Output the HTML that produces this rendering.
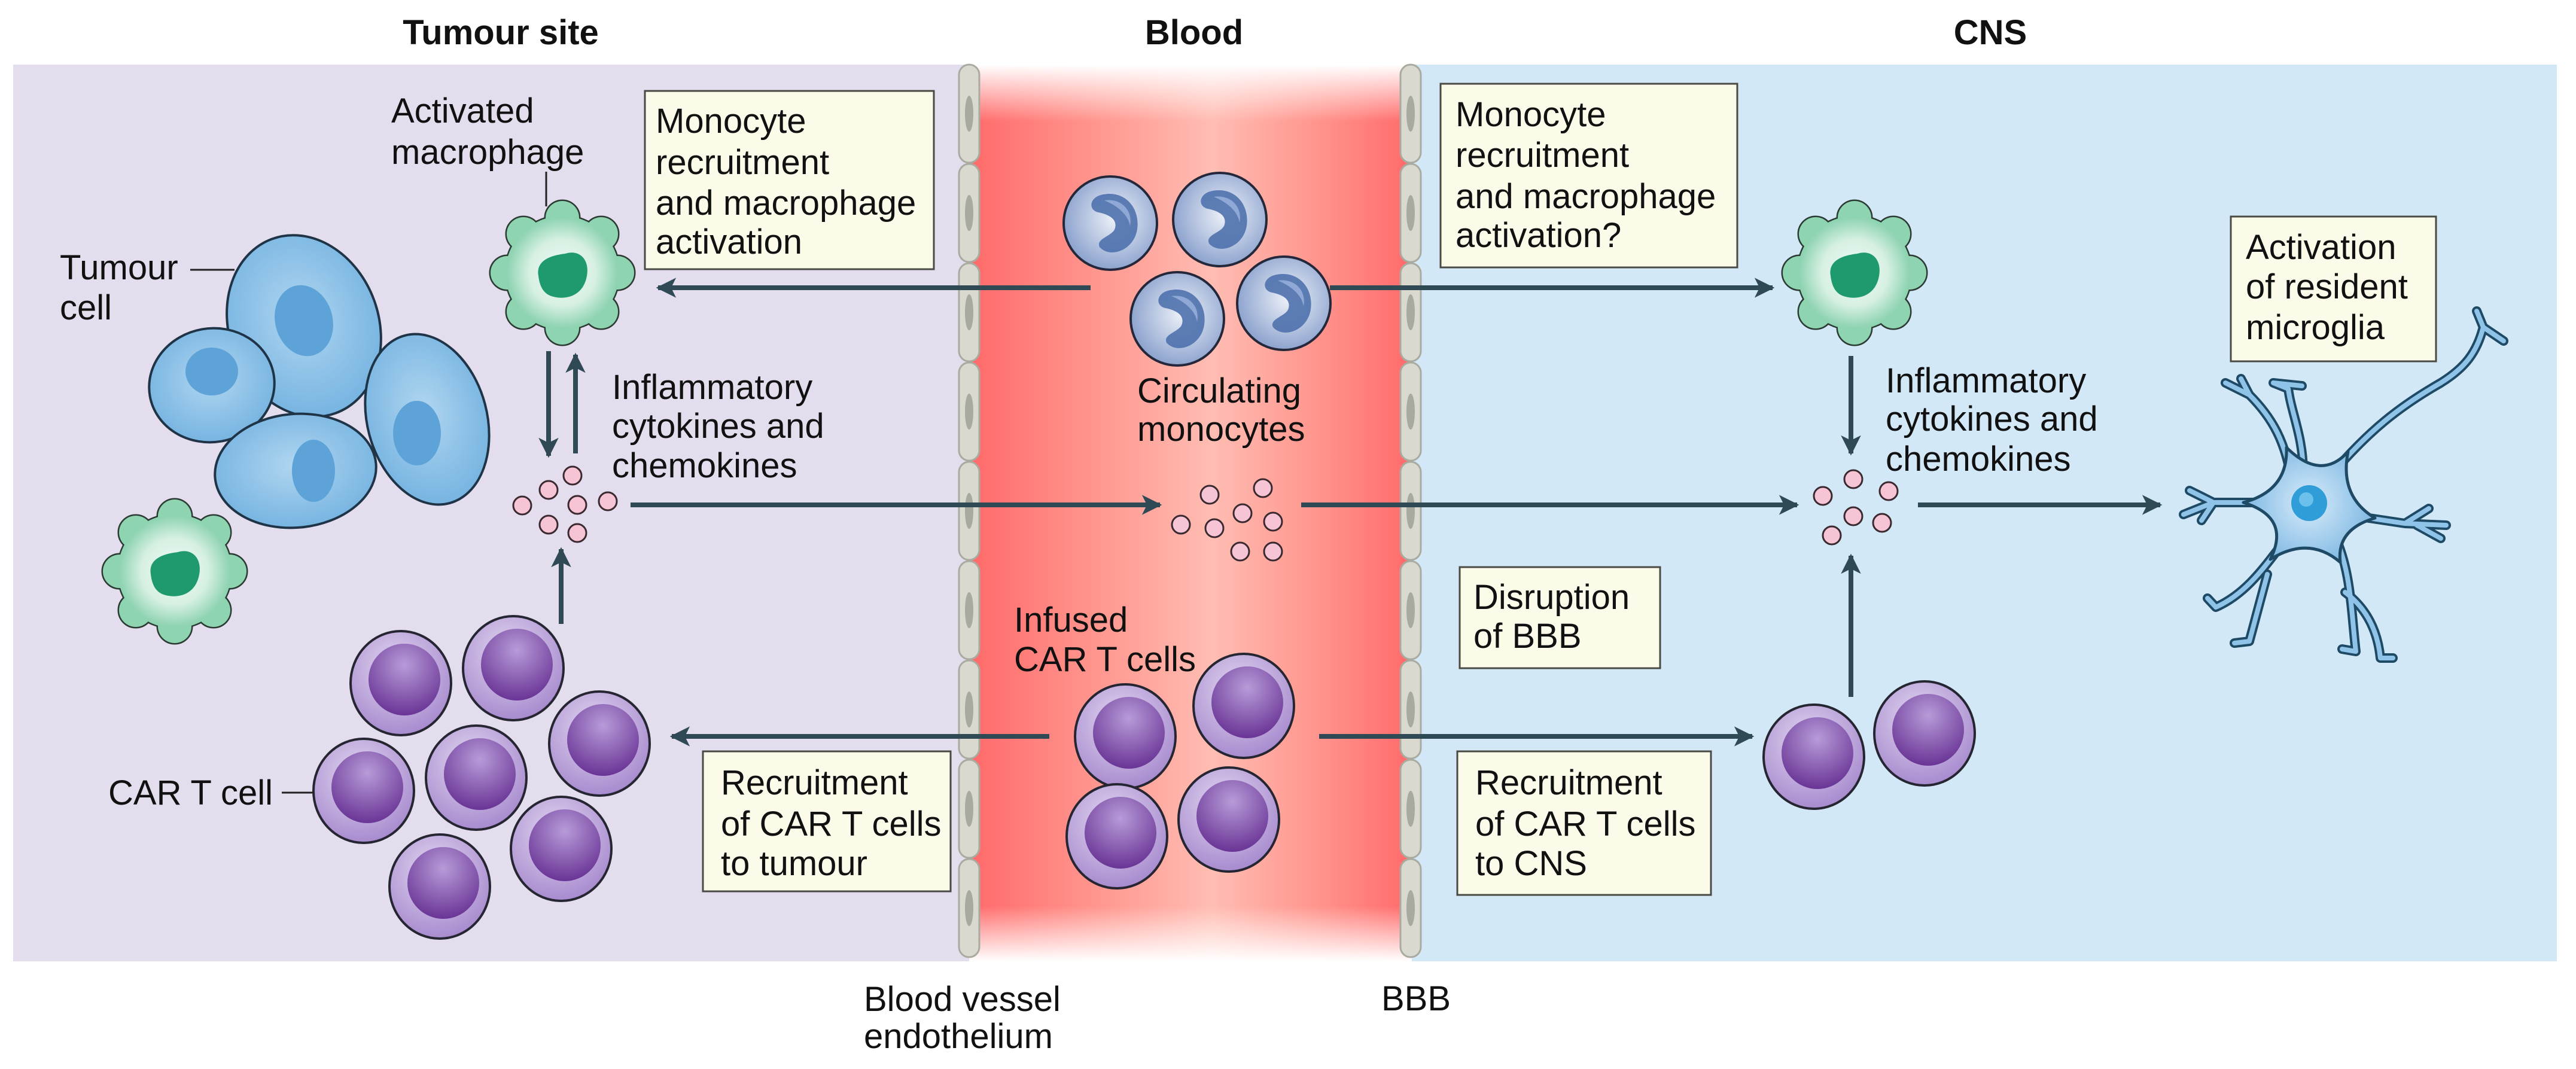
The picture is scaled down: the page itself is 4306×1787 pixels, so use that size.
<!DOCTYPE html>
<html><head><meta charset="utf-8"><style>
html,body{margin:0;padding:0;background:#fff;}
svg{display:block;}
text{font-family:"Liberation Sans",sans-serif;fill:#111;}
.t{font-size:58px;}
.h{font-size:58px;font-weight:bold;}
</style></head><body>
<svg width="4306" height="1787" viewBox="0 0 4306 1787" xmlns="http://www.w3.org/2000/svg">
<defs>
<linearGradient id="blood" x1="0" y1="0" x2="1" y2="0">
<stop offset="0" stop-color="#ff6a6a"/><stop offset="0.3" stop-color="#ff9890"/><stop offset="0.55" stop-color="#ffbdb3"/><stop offset="0.78" stop-color="#ff968e"/><stop offset="1" stop-color="#ff6a6a"/>
</linearGradient>
<linearGradient id="fadeT" x1="0" y1="0" x2="0" y2="1"><stop offset="0" stop-color="#fff" stop-opacity="1"/><stop offset="1" stop-color="#fff" stop-opacity="0"/></linearGradient>
<linearGradient id="fadeB" x1="0" y1="0" x2="0" y2="1"><stop offset="0" stop-color="#fff" stop-opacity="0"/><stop offset="1" stop-color="#fff" stop-opacity="1"/></linearGradient>
<radialGradient id="cartO" cx="0.45" cy="0.35" r="0.7"><stop offset="0" stop-color="#e2d8f0"/><stop offset="1" stop-color="#a385cc"/></radialGradient>
<radialGradient id="cartI" cx="0.5" cy="0.3" r="0.7"><stop offset="0" stop-color="#b79bd8"/><stop offset="1" stop-color="#6a3596"/></radialGradient>
<radialGradient id="monoG" cx="0.55" cy="0.45" r="0.65"><stop offset="0" stop-color="#eef2f9"/><stop offset="1" stop-color="#7d96c7"/></radialGradient>
<radialGradient id="macG" cx="0.5" cy="0.5" r="0.55"><stop offset="0" stop-color="#f2fbf6"/><stop offset="0.55" stop-color="#d6f0e2"/><stop offset="1" stop-color="#7dcca6"/></radialGradient>
<radialGradient id="tumG" cx="0.5" cy="0.45" r="0.6"><stop offset="0" stop-color="#b0d6f0"/><stop offset="1" stop-color="#72b1e0"/></radialGradient>
<radialGradient id="mgG" cx="3860" cy="841" r="110" gradientUnits="userSpaceOnUse"><stop offset="0" stop-color="#d8ecfa"/><stop offset="1" stop-color="#7fb8e3"/></radialGradient>
<marker id="ah" viewBox="0 0 10 10" refX="9" refY="5" markerWidth="4.2" markerHeight="4.2" orient="auto" markerUnits="strokeWidth"><path d="M0,0 L10,5 L0,10 L2.5,5 z" fill="#2f4955"/></marker>
<g id="cart">
<ellipse cx="0" cy="0" rx="84" ry="87" fill="url(#cartO)" stroke="#262632" stroke-width="4"/>
<circle cx="6" cy="-6" r="60" fill="url(#cartI)"/>
</g>
<g id="mono">
<circle r="78" fill="url(#monoG)" stroke="#24283a" stroke-width="4"/>
<path d="M-12,-48 C25,-55 50,-25 45,10 C40,45 0,60 -18,40 C-25,25 5,22 8,8 C12,-8 -5,-15 -20,-18 C-38,-22 -35,-44 -12,-48 z" fill="#4f71ad" opacity="0.9"/>
<path d="M-10,-38 C20,-42 38,-20 33,5 C30,-15 10,-30 -10,-38 z" fill="#8fa8d6"/>
</g>
<g id="mac">
<g stroke="#2b3b33" stroke-width="5" fill="#7dcca6">
<circle r="95"/>
<circle cx="92" cy="0" r="28"/><circle cx="65" cy="65" r="28"/><circle cx="0" cy="92" r="28"/><circle cx="-65" cy="65" r="28"/>
<circle cx="-92" cy="0" r="28"/><circle cx="-65" cy="-65" r="28"/><circle cx="0" cy="-92" r="28"/><circle cx="65" cy="-65" r="28"/>
</g>
<g fill="#8fd4b1">
<circle r="95"/>
<circle cx="92" cy="0" r="28"/><circle cx="65" cy="65" r="28"/><circle cx="0" cy="92" r="28"/><circle cx="-65" cy="65" r="28"/>
<circle cx="-92" cy="0" r="28"/><circle cx="-65" cy="-65" r="28"/><circle cx="0" cy="-92" r="28"/><circle cx="65" cy="-65" r="28"/>
</g>
<circle r="92" fill="url(#macG)"/>
<path d="M-40,5 C-45,-25 -10,-30 5,-32 C30,-40 48,-20 40,10 C32,40 5,45 -15,40 C-32,36 -38,22 -40,5 z" fill="#1e9a6c"/>
</g>
<g id="endo">
<rect x="-17" y="0" width="34" height="164" rx="17" fill="#d9d9cf" stroke="#a9aba0" stroke-width="3"/>
<ellipse cx="0" cy="82" rx="7" ry="30" fill="#a9aa9e"/>
</g>
</defs>

<rect x="22" y="108" width="1600" height="1499" fill="#e3ddee"/>
<rect x="2360" y="108" width="1914" height="1499" fill="#d3e8f7"/>
<rect x="1620" y="108" width="740" height="1499" fill="url(#blood)"/>
<rect x="1620" y="108" width="740" height="95" fill="url(#fadeT)"/>
<rect x="1620" y="1515" width="740" height="92" fill="url(#fadeB)"/>

<g>
<use href="#endo" x="1620" y="108"/><use href="#endo" x="1620" y="274"/><use href="#endo" x="1620" y="440"/><use href="#endo" x="1620" y="606"/><use href="#endo" x="1620" y="772"/><use href="#endo" x="1620" y="938"/><use href="#endo" x="1620" y="1104"/><use href="#endo" x="1620" y="1270"/><use href="#endo" x="1620" y="1436"/>
<use href="#endo" x="2358" y="108"/><use href="#endo" x="2358" y="274"/><use href="#endo" x="2358" y="440"/><use href="#endo" x="2358" y="606"/><use href="#endo" x="2358" y="772"/><use href="#endo" x="2358" y="938"/><use href="#endo" x="2358" y="1104"/><use href="#endo" x="2358" y="1270"/><use href="#endo" x="2358" y="1436"/>
</g>

<text class="h" x="837" y="74" text-anchor="middle">Tumour site</text>
<text class="h" x="1996" y="74" text-anchor="middle">Blood</text>
<text class="h" x="3327" y="74" text-anchor="middle">CNS</text>

<g stroke="#1f3547" stroke-width="4" fill="url(#tumG)">
<ellipse cx="508" cy="545" rx="125" ry="155" transform="rotate(-20 508 545)"/>
<ellipse cx="354" cy="644" rx="105" ry="95" transform="rotate(-10 354 644)"/>
<ellipse cx="714" cy="701" rx="100" ry="145" transform="rotate(-15 714 701)"/>
<ellipse cx="494" cy="787" rx="135" ry="95" transform="rotate(-5 494 787)"/>
</g>
<g fill="#5ea3d8">
<ellipse cx="508" cy="536" rx="48" ry="60" transform="rotate(-15 508 536)"/>
<ellipse cx="354" cy="621" rx="44" ry="40"/>
<ellipse cx="524" cy="787" rx="36" ry="52"/>
<ellipse cx="697" cy="724" rx="40" ry="54"/>
</g>
<text class="t" x="100" y="467">Tumour</text>
<text class="t" x="100" y="534">cell</text>
<line x1="318" y1="451" x2="392" y2="451" stroke="#222" stroke-width="3"/>

<use href="#mac" x="940" y="456"/>
<use href="#mac" x="292" y="955"/>
<use href="#mac" x="3100" y="456"/>
<text class="t" x="654" y="205">Activated</text>
<text class="t" x="654" y="274">macrophage</text>
<line x1="913" y1="287" x2="913" y2="345" stroke="#222" stroke-width="3"/>

<g fill="#fcfbe9" stroke="#4a4a44" stroke-width="3">
<rect x="1078" y="152" width="483" height="298"/>
<rect x="1175" y="1256" width="414" height="234"/>
<rect x="2408" y="140" width="496" height="307"/>
<rect x="2440" y="948" width="335" height="169"/>
<rect x="2436" y="1256" width="424" height="240"/>
<rect x="3729" y="362" width="343" height="242"/>
</g>
<text class="t" x="1096" y="222">Monocyte</text>
<text class="t" x="1096" y="291">recruitment</text>
<text class="t" x="1096" y="359">and macrophage</text>
<text class="t" x="1096" y="424">activation</text>
<text class="t" x="1205" y="1328">Recruitment</text>
<text class="t" x="1205" y="1397">of CAR T cells</text>
<text class="t" x="1205" y="1463">to tumour</text>
<text class="t" x="2433" y="211">Monocyte</text>
<text class="t" x="2433" y="279">recruitment</text>
<text class="t" x="2433" y="348">and macrophage</text>
<text class="t" x="2433" y="413">activation?</text>
<text class="t" x="2463" y="1018">Disruption</text>
<text class="t" x="2463" y="1083">of BBB</text>
<text class="t" x="2466" y="1328">Recruitment</text>
<text class="t" x="2466" y="1397">of CAR T cells</text>
<text class="t" x="2466" y="1463">to CNS</text>
<text class="t" x="3754" y="433">Activation</text>
<text class="t" x="3754" y="499">of resident</text>
<text class="t" x="3754" y="567">microglia</text>

<g fill="#f7c4d6" stroke="#3a2a30" stroke-width="3">
<circle cx="957" cy="795" r="15"/><circle cx="917" cy="819" r="15"/><circle cx="965" cy="844" r="15"/><circle cx="873" cy="845" r="15"/><circle cx="1016" cy="838" r="15"/><circle cx="917" cy="877" r="15"/><circle cx="965" cy="891" r="15"/>
<circle cx="2022" cy="827" r="15"/><circle cx="2111" cy="816" r="15"/><circle cx="2077" cy="858" r="15"/><circle cx="1974" cy="877" r="15"/><circle cx="2030" cy="883" r="15"/><circle cx="2128" cy="872" r="15"/><circle cx="2073" cy="922" r="15"/><circle cx="2128" cy="922" r="15"/>
<circle cx="3098" cy="801" r="15"/><circle cx="3047" cy="829" r="15"/><circle cx="3157" cy="821" r="15"/><circle cx="3098" cy="863" r="15"/><circle cx="3062" cy="895" r="15"/><circle cx="3146" cy="874" r="15"/>
</g>
<text class="t" x="1023" y="667">Inflammatory</text>
<text class="t" x="1023" y="732">cytokines and</text>
<text class="t" x="1023" y="798">chemokines</text>
<text class="t" x="3152" y="656">Inflammatory</text>
<text class="t" x="3152" y="720">cytokines and</text>
<text class="t" x="3152" y="787">chemokines</text>

<use href="#mono" x="1856" y="373"/>
<use href="#mono" x="2039" y="367"/>
<use href="#mono" x="1968" y="533"/>
<use href="#mono" x="2146" y="507"/>
<text class="t" x="1901" y="673">Circulating</text>
<text class="t" x="1901" y="737">monocytes</text>

<use href="#cart" x="670" y="1142"/><use href="#cart" x="858" y="1117"/><use href="#cart" x="1002" y="1243"/><use href="#cart" x="608" y="1322"/><use href="#cart" x="796" y="1300"/><use href="#cart" x="938" y="1419"/><use href="#cart" x="735" y="1482"/>
<use href="#cart" x="1881" y="1231"/><use href="#cart" x="2079" y="1180"/><use href="#cart" x="1867" y="1398"/><use href="#cart" x="2054" y="1370"/>
<use href="#cart" x="3032" y="1265"/><use href="#cart" x="3217" y="1226"/>
<text class="t" x="181" y="1345">CAR T cell</text>
<line x1="471" y1="1325" x2="524" y2="1325" stroke="#222" stroke-width="3"/>
<text class="t" x="1695" y="1056">Infused</text>
<text class="t" x="1695" y="1122">CAR T cells</text>

<g stroke="#2f4955" stroke-width="8" fill="none" marker-end="url(#ah)">
<line x1="1823" y1="481" x2="1100" y2="481"/>
<line x1="2223" y1="481" x2="2963" y2="481"/>
<line x1="917" y1="587" x2="917" y2="762"/>
<line x1="962" y1="758" x2="962" y2="593"/>
<line x1="1054" y1="844" x2="1939" y2="844"/>
<line x1="2175" y1="844" x2="3004" y2="844"/>
<line x1="3206" y1="844" x2="3611" y2="844"/>
<line x1="3094" y1="595" x2="3094" y2="758"/>
<line x1="938" y1="1043" x2="938" y2="918"/>
<line x1="3094" y1="1165" x2="3094" y2="929"/>
<line x1="1754" y1="1231" x2="1123" y2="1231"/>
<line x1="2205" y1="1231" x2="2929" y2="1231"/>
</g>

<g fill="none" stroke-linecap="round" stroke-linejoin="round">
<g stroke="#1e4a66" stroke-width="16">
<path d="M3900,790 C3960,720 4010,680 4080,640 C4120,615 4140,590 4151,547"/>
<path d="M4151,547 L4140,520 M4151,547 L4185,570"/>
<path d="M3830,800 C3820,740 3800,700 3760,660 L3746,633 M3760,660 L3720,640"/>
<path d="M3850,790 C3850,730 3830,690 3825,650 L3800,640 L3848,645"/>
<path d="M3800,840 L3700,840 L3660,820 M3700,840 L3650,860 M3700,840 L3680,870"/>
<path d="M3920,860 L4020,875 L4089,878 M4020,875 L4060,850 M4040,878 L4080,900"/>
<path d="M3830,890 C3790,940 3760,990 3704,1015 L3690,1000 M3790,960 L3760,1072 L3735,1075"/>
<path d="M3900,890 C3930,950 3930,1020 3938,1089 L3915,1085 M3920,990 C3960,1020 3975,1060 3979,1100 L4000,1100"/>
</g>
<g stroke="#8fc3e8" stroke-width="8">
<path d="M3900,790 C3960,720 4010,680 4080,640 C4120,615 4140,590 4151,547"/>
<path d="M4151,547 L4140,520 M4151,547 L4185,570"/>
<path d="M3830,800 C3820,740 3800,700 3760,660 L3746,633 M3760,660 L3720,640"/>
<path d="M3850,790 C3850,730 3830,690 3825,650 L3800,640 L3848,645"/>
<path d="M3800,840 L3700,840 L3660,820 M3700,840 L3650,860 M3700,840 L3680,870"/>
<path d="M3920,860 L4020,875 L4089,878 M4020,875 L4060,850 M4040,878 L4080,900"/>
<path d="M3830,890 C3790,940 3760,990 3704,1015 L3690,1000 M3790,960 L3760,1072 L3735,1075"/>
<path d="M3900,890 C3930,950 3930,1020 3938,1089 L3915,1085 M3920,990 C3960,1020 3975,1060 3979,1100 L4000,1100"/>
</g>
</g>
<path d="M3925,755 Q3880,805 3822,748 Q3825,820 3750,840 Q3830,865 3795,935 Q3860,895 3912,940 Q3905,885 3970,866 Q3910,830 3925,755 z" fill="url(#mgG)" stroke="#1e4a66" stroke-width="5" stroke-linejoin="round"/>
<circle cx="3860" cy="841" r="30" fill="#2f9ed8"/>
<circle cx="3855" cy="835" r="12" fill="#6cc0ec"/>

<text class="t" x="1444" y="1690">Blood vessel</text>
<text class="t" x="1444" y="1752">endothelium</text>
<text class="t" x="2309" y="1689">BBB</text>
</svg>
</body></html>
